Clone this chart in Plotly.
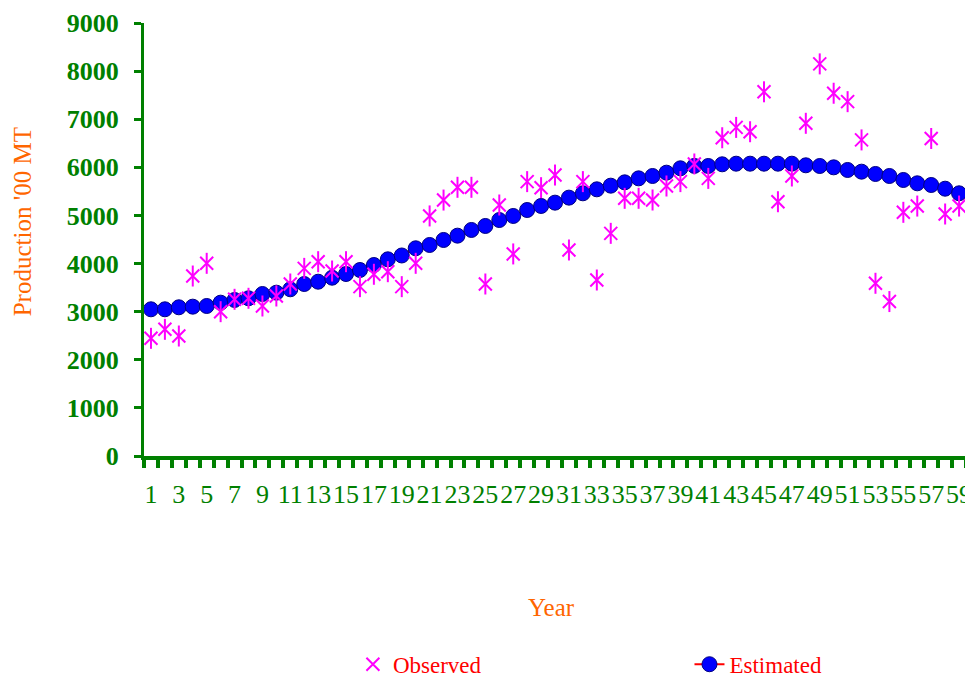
import plotly.graph_objects as go

years = list(range(1, 61))
observed = [2446, 2633, 2494, 3741, 4005, 3000, 3257, 3278, 3118, 3326,
            3575, 3900, 4039, 3845, 4039, 3520, 3777, 3831, 3520, 4005,
            4990, 5320, 5585, 5585, 3575, 5217, 4200, 5703, 5577, 5840,
            4282, 5703, 3658, 4628, 5356, 5356, 5321, 5612, 5703, 6070,
            5770, 6615, 6830, 6740, 7570, 5285, 5820, 6915, 8150, 7540,
            7365, 6570, 3590, 3210, 5065, 5195, 6600, 5030, 5195, 5670]
estimated = [3049, 3049, 3091, 3104, 3118, 3187, 3243, 3278, 3367, 3395,
             3465, 3575, 3623, 3706, 3783, 3866, 3970, 4088, 4168, 4317,
             4386, 4490, 4580, 4698, 4781, 4905, 4989, 5113, 5197, 5266,
             5370, 5460, 5543, 5619, 5688, 5771, 5820, 5889, 5980, 6030,
             6028, 6063, 6076, 6076, 6076, 6076, 6076, 6042, 6028, 6000,
             5945, 5910, 5862, 5820, 5737, 5668, 5633, 5556, 5460, 5377]
tick_vals = list(range(1, 60, 2))
tick_text = [str(v) for v in tick_vals]
y_ticks = list(range(0, 9001, 1000))

GREEN = "#008000"
ORANGE = "#FF6600"
MAGENTA = "#FF00FF"
SERIF = "Liberation Serif, Times New Roman, serif"

fig = go.Figure()
fig.add_trace(go.Scatter(
    x=years, y=estimated, mode="lines+markers", name="Estimated",
    legend="legend2",
    line=dict(color="#FF0000", width=2),
    marker=dict(symbol="circle", size=15, color="#0000FF",
                line=dict(color="#000080", width=1)),
    cliponaxis=False,
))
fig.add_trace(go.Scatter(
    x=years, y=observed, mode="markers", name="Observed",
    legend="legend",
    marker=dict(symbol="x-thin-open", size=13, color=MAGENTA,
                line=dict(color=MAGENTA, width=2)),
    cliponaxis=False,
))
fig.add_trace(go.Scatter(
    x=years, y=observed, mode="markers", name="Observed", showlegend=False,
    marker=dict(symbol="line-ns-open", size=15, color=MAGENTA,
                line=dict(color=MAGENTA, width=2)),
    cliponaxis=False,
))

legend_font = dict(family=SERIF, size=23, color="#FF0000")
fig.update_layout(
    width=965, height=670, autosize=False,
    margin=dict(l=136, r=0, t=15, b=222, autoexpand=False),
    plot_bgcolor="white", paper_bgcolor="white",
    font=dict(family=SERIF),
    showlegend=True,
    legend=dict(
        orientation="h", x=0.252, xanchor="left", y=-0.481, yanchor="middle",
        font=legend_font, bgcolor="rgba(0,0,0,0)",
    ),
    legend2=dict(
        orientation="h", x=0.658, xanchor="left", y=-0.481, yanchor="middle",
        font=legend_font, bgcolor="rgba(0,0,0,0)",
    ),
    xaxis=dict(
        range=[0.5, 60.0], showgrid=False, zeroline=False, automargin=False,
        showline=True, linecolor=GREEN, linewidth=4,
        tickmode="array", tickvals=tick_vals, ticktext=tick_text,
        ticks="", tickangle=0, ticklabelstandoff=12,
        tickfont=dict(family=SERIF, size=26, color=GREEN),
        minor=dict(tickmode="linear", tick0=0.5, dtick=1, ticks="outside",
                   ticklen=8, tickwidth=4, tickcolor=GREEN, showgrid=False),
    ),
    yaxis=dict(
        range=[0, 9000], showgrid=False, zeroline=False, automargin=False,
        showline=True, linecolor=GREEN, linewidth=3,
        tickmode="array", tickvals=y_ticks,
        ticks="outside", ticklen=7, tickwidth=3, tickcolor=GREEN,
        ticklabelstandoff=10,
        tickfont=dict(family=SERIF, size=26, color=GREEN, weight="bold"),
    ),
    annotations=[
        dict(text="Year", xref="paper", yref="paper", x=0.491, y=-0.351,
             xanchor="center", yanchor="middle", showarrow=False,
             font=dict(family=SERIF, size=25, color=ORANGE)),
        dict(text="Production '00 MT", xref="paper", yref="paper",
             x=-0.147, y=0.54, xanchor="center", yanchor="middle",
             textangle=-90, showarrow=False,
             font=dict(family=SERIF, size=25, color=ORANGE)),
    ],
)

fig.write_html("out.html")
